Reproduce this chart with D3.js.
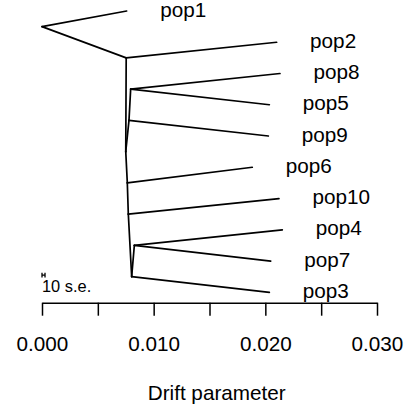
<!DOCTYPE html>
<html>
<head>
<meta charset="utf-8">
<script src="https://cdn.jsdelivr.net/npm/d3@7"></script>
<style>
  html, body { margin: 0; padding: 0; background: #fff; }
  svg { display: block; }
  text { font-family: "Liberation Sans", Arial, Helvetica, sans-serif; fill: #000; }
</style>
</head>
<body>
<svg id="chart" width="406" height="407"></svg>
<script>
// ---- data ----
// tips, listed top to bottom
const tipNames = ["pop1", "pop2", "pop8", "pop5", "pop9", "pop6", "pop10", "pop4", "pop7", "pop3"];
// drift coordinate (x) of each tip
const tipDrift = [0.00758, 0.02101, 0.02131, 0.02036, 0.02027, 0.01883, 0.02122, 0.02152, 0.02048, 0.02036];
// internal nodes: name, drift coordinate, children (upper child first)
const nodeNames = ["root", "N1", "N2", "N3", "N4", "N5", "N6", "N7", "N8"];
const nodeDrift = [0.0, 0.00754, 0.00750, 0.00779, 0.00794, 0.00764, 0.00773, 0.00803, 0.00827];
const nodeChildren = [
  ["pop1", "N1"],
  ["pop2", "N2"],
  ["N3", "N5"],
  ["N4", "pop9"],
  ["pop8", "pop5"],
  ["pop6", "N6"],
  ["pop10", "N7"],
  ["N8", "pop3"],
  ["pop4", "pop7"]
];
const xTicks = [0, 0.005, 0.010, 0.015, 0.020, 0.025, 0.030];
const xTickLabels = ["0.000", "", "0.010", "", "0.020", "", "0.030"];
const labelOffset = 0.003;     // drift units between tip and its label
const meanSE = 0.000027;       // scale bar: 10 s.e.
const xTitle = "Drift parameter";

// ---- layout ----
const svg = d3.select("#chart");
const x = d3.scaleLinear().domain([0, 0.03]).range([42, 377]);
const y = d3.scaleLinear().domain([0, tipNames.length - 1]).range([11, 292.3]);
const fontSize = 20.7;

// build node table
const nodes = {};
tipNames.forEach((n, i) => nodes[n] = { name: n, drift: tipDrift[i], tip: true, lo: i, hi: i, yi: i });
nodeNames.forEach((n, i) => nodes[n] = { name: n, drift: nodeDrift[i], tip: false, children: nodeChildren[i] });
function resolve(n) {
  const d = nodes[n];
  if (d.tip) return d;
  const a = resolve(d.children[0]), b = resolve(d.children[1]);
  d.lo = Math.min(a.lo, b.lo);
  d.hi = Math.max(a.hi, b.hi);
  d.yi = (a.hi + b.lo) / 2;   // boundary between the two child groups
  return d;
}
resolve("root");

const edges = [];
nodeNames.forEach(n => nodes[n].children.forEach(c => edges.push([nodes[n], nodes[c]])));

const g = svg.append("g");
g.selectAll("line.edge").data(edges).join("line")
  .attr("class", "edge")
  .attr("x1", d => x(d[0].drift)).attr("y1", d => y(d[0].yi))
  .attr("x2", d => x(d[1].drift)).attr("y2", d => y(d[1].yi))
  .attr("stroke", "#000").attr("stroke-width", 1.7).attr("stroke-linecap", "round");

g.selectAll("text.tip").data(tipNames.map(n => nodes[n])).join("text")
  .attr("class", "tip")
  .attr("x", d => x(d.drift + labelOffset))
  .attr("y", d => y(d.yi) + 5.5)
  .attr("font-size", fontSize)
  .text(d => d.name);

// scale bar (10 s.e.)
const barY = y(8.45);
const barG = svg.append("g").attr("stroke", "#000").attr("stroke-width", 1.3);
barG.append("line").attr("x1", x(0)).attr("x2", x(10 * meanSE)).attr("y1", barY).attr("y2", barY);
barG.append("line").attr("x1", x(0)).attr("x2", x(0)).attr("y1", barY - 2.4).attr("y2", barY + 2.4);
barG.append("line").attr("x1", x(10 * meanSE)).attr("x2", x(10 * meanSE)).attr("y1", barY - 2.4).attr("y2", barY + 2.4);
svg.append("text").attr("x", x(0)).attr("y", barY + 17).attr("font-size", 16.4).text("10 s.e.");

// axis
const axis = d3.axisBottom(x).tickValues(xTicks)
  .tickFormat((d, i) => xTickLabels[i])
  .tickSize(13).tickSizeOuter(0).tickPadding(20.2);
const ax = svg.append("g").attr("transform", "translate(0,302.7)").call(axis);
ax.selectAll("path, line").attr("stroke", "#000").attr("stroke-width", 1.5);
ax.selectAll("text").attr("font-size", fontSize).attr("font-family", "Liberation Sans, Arial, sans-serif").attr("fill", "#000");

svg.append("text").attr("x", 216.7).attr("y", 400).attr("text-anchor", "middle")
  .attr("font-size", fontSize).text(xTitle);
</script>
</body>
</html>
